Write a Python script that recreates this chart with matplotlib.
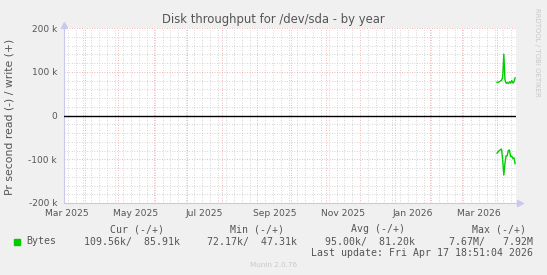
import matplotlib
matplotlib.use("Agg")
import matplotlib.pyplot as plt
import matplotlib.dates as mdates
from matplotlib.ticker import MultipleLocator, FuncFormatter, NullFormatter
import matplotlib.transforms as mtransforms
from datetime import datetime, timedelta
import pandas as pd

# --- data (daily averages, bytes per second) ---
days = pd.date_range("2026-04-01", "2026-04-17", freq="D")
write_k = [76, 76, 77, 79, 80, 88, 140, 82, 74, 75, 73, 77, 74, 80, 74, 77, 86]
read_k = [86, 83, 80, 78, 77, 102, 136, 109, 92, 92, 80, 79, 94, 93, 98, 97, 110]

label_months = ["2025-03", "2025-05", "2025-07", "2025-09", "2025-11", "2026-01", "2026-03"]

legend_headers = ["Cur (-/+)", "Min (-/+)", "Avg (-/+)", "Max (-/+)"]
legend_values = ["109.56k/  85.91k", "72.17k/  47.31k", "95.00k/  81.20k", "7.67M/   7.92M"]

last_update = datetime(2026, 4, 17, 18, 51, 4)
start = last_update - timedelta(days=400)

W, H = 547, 275
BG = "#f0f0f0"
GREEN = "#00cc00"
TXT = "#555555"
AXIS = "#c8c8f0"

fig = plt.figure(figsize=(W / 100, H / 100), dpi=100, facecolor=BG)
ax = fig.add_axes([64 / W, 1 - 203 / H, (516 - 64) / W, (203 - 28) / H])
ax.set_facecolor("white")

writes = [v * 1000 for v in write_k]
reads = [-v * 1000 for v in read_k]
ax.plot(days, writes, color=GREEN, lw=1.0, zorder=4)
ax.plot(days, reads, color=GREEN, lw=1.0, zorder=4)
ax.axhline(0, color="black", lw=1.0, zorder=3)

ax.set_xlim(start, last_update)
ax.set_ylim(-200000, 200000)

# grid like rrdtool: weekly gray, monthly red; 20k gray, 100k red
ax.xaxis.set_major_locator(mdates.MonthLocator(bymonthday=1))
ax.xaxis.set_minor_locator(mdates.WeekdayLocator(byweekday=mdates.MO))
ax.xaxis.set_major_formatter(NullFormatter())
ax.yaxis.set_major_locator(MultipleLocator(100000))
ax.yaxis.set_minor_locator(MultipleLocator(20000))
ax.yaxis.set_major_formatter(FuncFormatter(lambda v, p: "0" if v == 0 else f"{int(v / 1000)} k"))

ax.grid(which="minor", color="#c8c8c8", lw=0.6, linestyle=(0, (1, 2)))
ax.grid(which="major", color="#e8a0a0", lw=0.6, linestyle=(0, (1, 2)))
ax.set_axisbelow(True)

ax.tick_params(which="both", length=0, colors=TXT, labelsize=6.5)
ax.tick_params(axis="y", pad=5)

for s in ["top", "right"]:
    ax.spines[s].set_visible(False)
for s in ["left", "bottom"]:
    ax.spines[s].set_color(AXIS)
    ax.spines[s].set_linewidth(0.8)

# axis arrows
ax.plot([0], [1.02], marker="^", ms=4, color=AXIS, transform=ax.transAxes, clip_on=False)
ax.plot([1.008], [0], marker=">", ms=4, color=AXIS, transform=ax.transAxes, clip_on=False)

# month labels centred mid-month (rrdtool style)
trans = mtransforms.blended_transform_factory(ax.transData, ax.transAxes)
for m in label_months:
    d = datetime.strptime(m, "%Y-%m") + timedelta(days=15)
    ax.text(d, -0.035, d.strftime("%b %Y"), transform=trans, ha="center", va="top",
            fontsize=6.6, color=TXT)

ax.set_ylabel("Pr second read (-) / write (+)", fontsize=7.8, color=TXT)
ax.yaxis.set_label_coords(-49 / 452, 0.49)

fig.text(273.5 / W, 1 - 19 / H, "Disk throughput for /dev/sda - by year", ha="center", va="center",
         fontsize=8.4, color=TXT)
fig.text(537 / W, 1 - 52 / H, "RRDTOOL / TOBI OETIKER", rotation=270, ha="center", va="center",
         fontsize=5, color="#c8c8c8")

# legend block in monospace
mono = dict(family="DejaVu Sans Mono", fontsize=7.15, color=TXT, va="center")
header_right = [164, 284, 405, 526]
value_right = [179.7, 297, 415, 533]
for txt, xr in zip(legend_headers, header_right):
    fig.text(xr / W, 1 - 229 / H, txt, ha="right", **mono)
fig.patches.append(plt.Rectangle((14 / W, 1 - 244.5 / H), 5.5 / W, 5.5 / H,
                                 transform=fig.transFigure, color=GREEN))
fig.text(26 / W, 1 - 241.5 / H, "Bytes", ha="left", **mono)
for txt, xr in zip(legend_values, value_right):
    fig.text(xr / W, 1 - 241.5 / H, txt, ha="right", **mono)
fig.text(533 / W, 1 - 253.5 / H, "Last update: " + last_update.strftime("%a %b %d %H:%M:%S %Y"),
         ha="right", **mono)
fig.text(273.5 / W, 1 - 265 / H, "Munin 2.0.76", ha="center", va="center", fontsize=5.2, color="#c8c8c8")

fig.savefig("out.png", dpi=100, facecolor=BG)
